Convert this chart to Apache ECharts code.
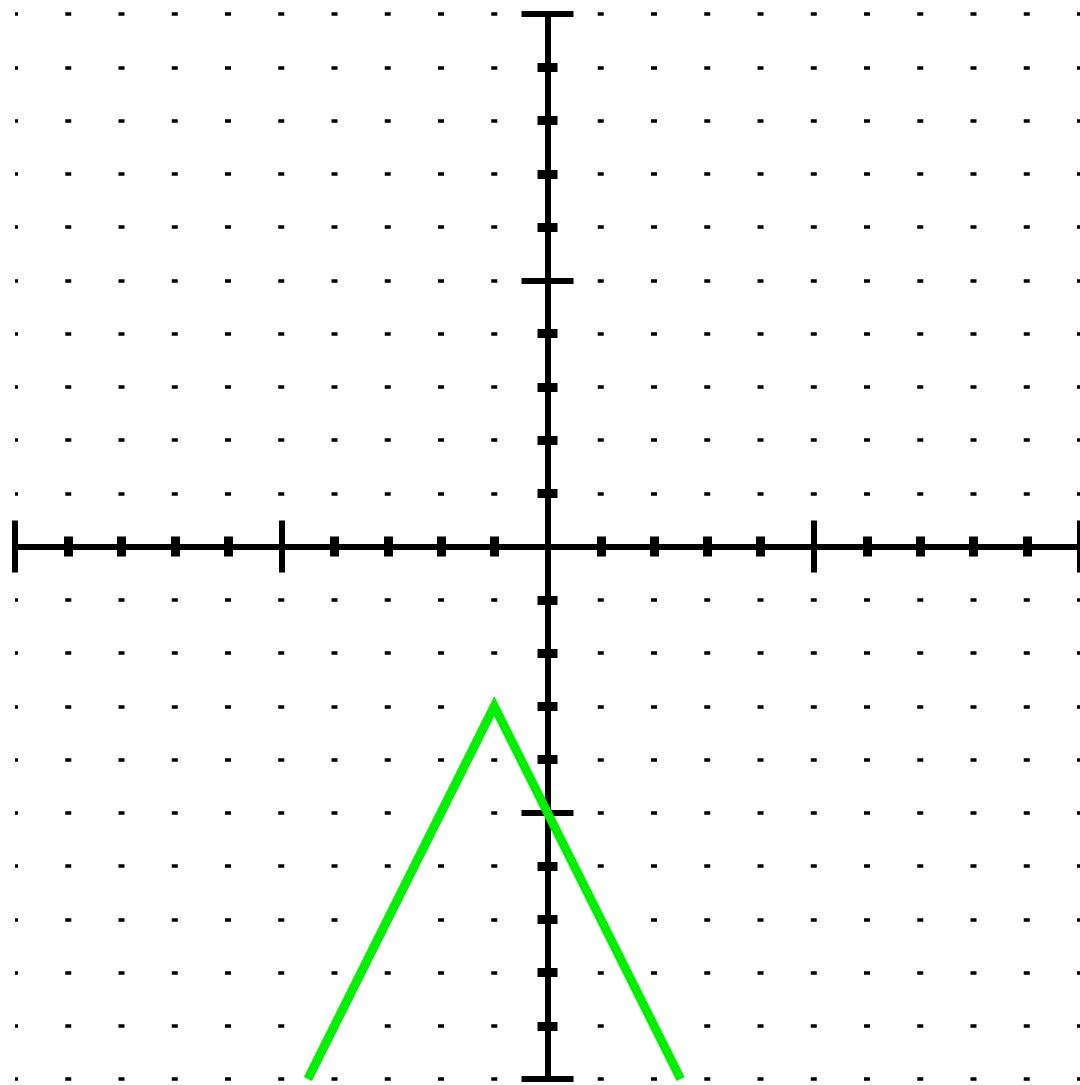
<!DOCTYPE html>
<html>
<head>
<meta charset="utf-8">
<script src="https://cdn.jsdelivr.net/npm/echarts@6/dist/echarts.min.js"></script>
<style>
    html, body {margin: 0; padding: 0; background: #fff;}
    #chart {width: 1080px; height: 1085px;}
</style>
</head>
<body>
<div id="chart"></div>
<script>
// 折线 y = -2|x+1| - 3 的三个点
var lineX = [-4.5, -1, 2.5]
var lineY = [-10, -3, -10]
// 坐标范围和刻度
var axisMin = -10
var axisMax = 10
var majorStep = 5
var minorSplit = 5

var points = lineX.map(function (x, i) {
    return [x, lineY[i]]
})

var unit = 1065 / (axisMax - axisMin)

//坐标轴的公共样式，两条轴叠在一起，刻度一条朝外一条朝内
function makeAxis(position, withDots) {
    var dotStyle = {
        color: '#000',
        width: 3.5,
        type: [6, unit - 6],
        dashOffset: 3
    }
    return {
        type: 'value',
        position: position,
        min: axisMin,
        max: axisMax,
        interval: majorStep,
        axisLine: {
            show: true,
            onZero: true,
            onZeroAxisIndex: 0,
            lineStyle: {color: '#000', width: 6}
        },
        axisTick: {
            show: true,
            length: 26,
            lineStyle: {color: '#000', width: 6}
        },
        minorTick: {
            show: true,
            splitNumber: minorSplit,
            length: 10,
            lineStyle: {color: '#000', width: 9}
        },
        axisLabel: {show: false},
        splitLine: {show: withDots, lineStyle: dotStyle},
        minorSplitLine: {show: withDots, lineStyle: dotStyle}
    }
}

var chart = echarts.init(document.querySelector('#chart'))
chart.setOption({
    animation: false,
    backgroundColor: '#fff',
    grid: {left: 15, right: 0, top: 14, bottom: 6, containLabel: false},
    xAxis: [makeAxis('bottom', false), makeAxis('top', false)],
    yAxis: [makeAxis('left', true), makeAxis('right', false)],
    series: [{
        type: 'line',
        xAxisIndex: 0,
        yAxisIndex: 0,
        data: points,
        symbol: 'none',
        lineStyle: {color: '#00f000', width: 9, join: 'miter'},
        z: 5
    }]
})
</script>
</body>
</html>
